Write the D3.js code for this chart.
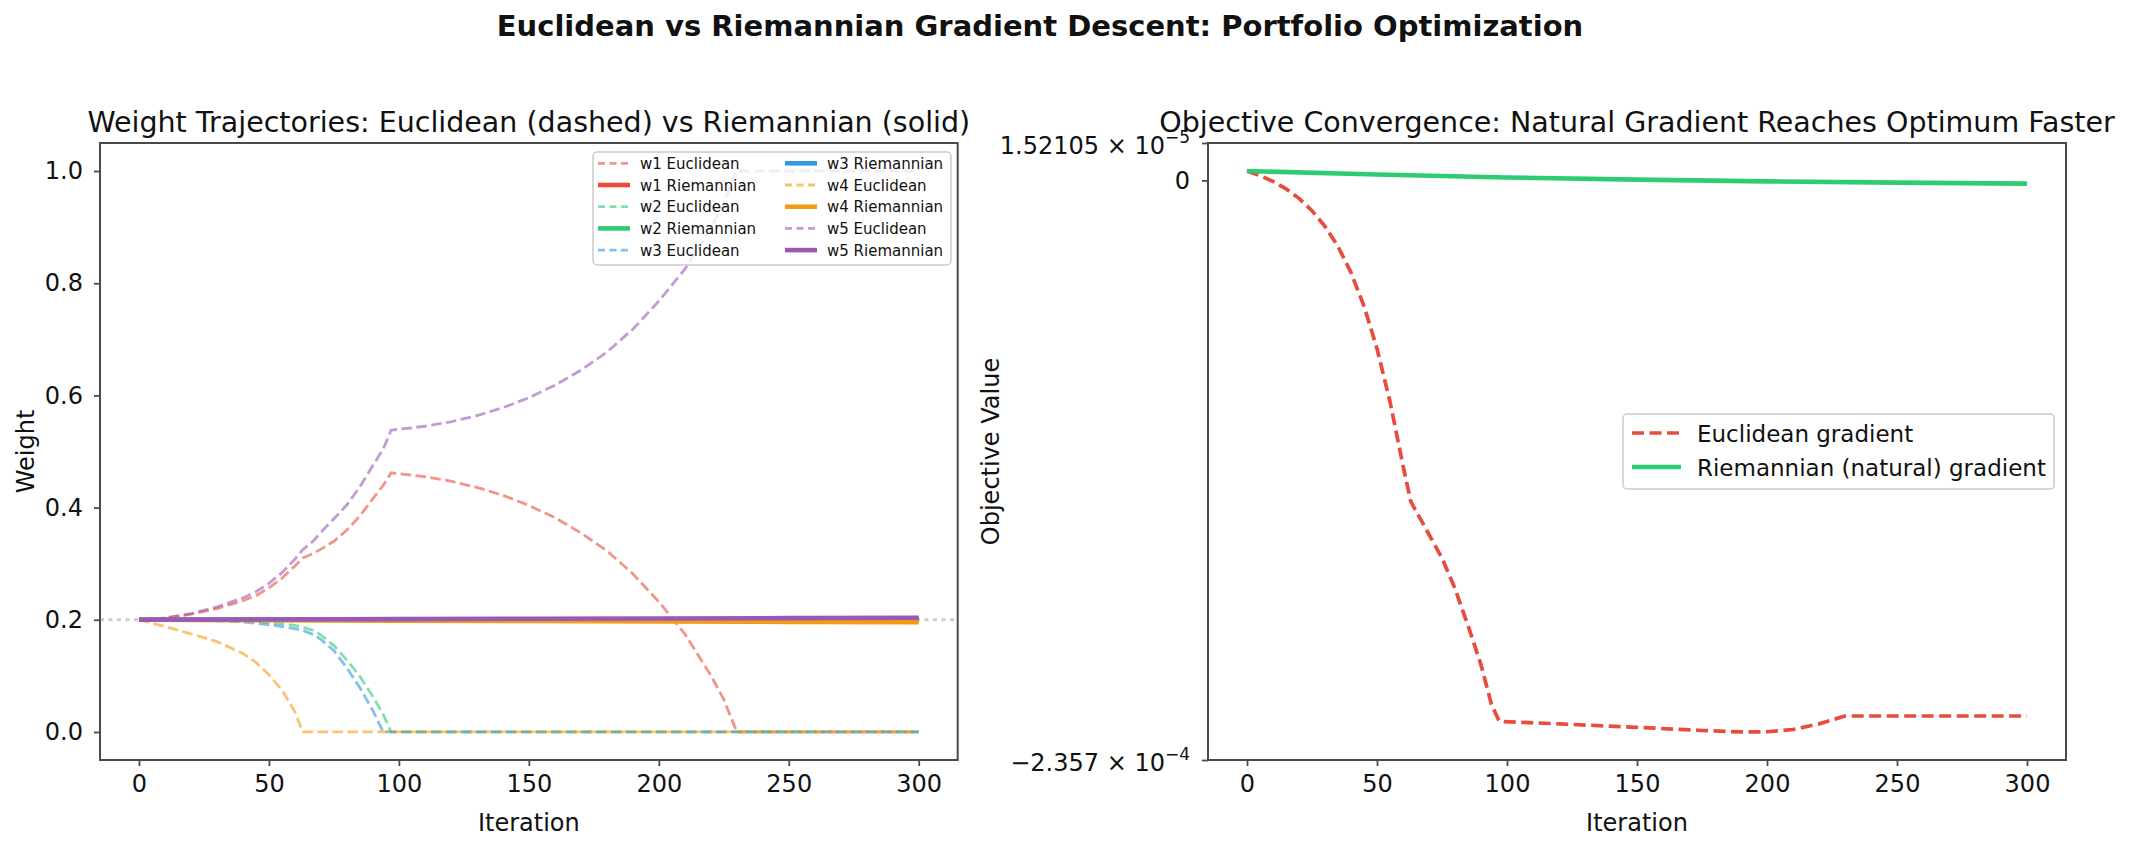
<!DOCTYPE html>
<html>
<head>
<meta charset="utf-8">
<script src="https://cdn.jsdelivr.net/npm/d3@7"></script>
<style>
  body { margin: 0; background: #fff; }
  svg text { font-family: "DejaVu Sans", sans-serif; fill: #111; }
</style>
</head>
<body>
<div id="wrapper"></div>
<script>
// iterations sampled for the weight trajectories (Euclidean)
const iters = [0, 10, 20, 30, 40, 45, 50, 55, 60, 63, 67, 70, 75, 80, 85, 90, 94, 97,
  110, 120, 130, 140, 150, 160, 170, 180, 190, 200, 210, 220, 225, 230, 250, 275, 300];

const w1Euclid = [0.2, 0.203, 0.21, 0.22, 0.234, 0.243, 0.257, 0.274, 0.296, 0.31, 0.318, 0.326, 0.34, 0.36, 0.385, 0.416, 0.44, 0.462,
  0.455, 0.447, 0.436, 0.422, 0.404, 0.382, 0.355, 0.323, 0.282, 0.232, 0.175, 0.101, 0.058, 0, 0, 0, 0];
const w2Euclid = [0.2, 0.2, 0.2, 0.199, 0.198, 0.197, 0.195, 0.193, 0.19, 0.187, 0.181, 0.173, 0.154, 0.128, 0.099, 0.063, 0.031, 0,
  0, 0, 0, 0, 0, 0, 0, 0, 0, 0, 0, 0, 0, 0, 0, 0, 0];
const w3Euclid = [0.2, 0.2, 0.199, 0.198, 0.196, 0.194, 0.191, 0.188, 0.184, 0.181, 0.174, 0.165, 0.145, 0.114, 0.079, 0.038, 0, 0,
  0, 0, 0, 0, 0, 0, 0, 0, 0, 0, 0, 0, 0, 0, 0, 0, 0];
const w4Euclid = [0.2, 0.188, 0.175, 0.161, 0.14, 0.124, 0.102, 0.075, 0.036, 0, 0, 0, 0, 0, 0, 0, 0, 0,
  0, 0, 0, 0, 0, 0, 0, 0, 0, 0, 0, 0, 0, 0, 0, 0, 0];
const w5Euclid = [0.2, 0.203, 0.211, 0.223, 0.239, 0.25, 0.265, 0.284, 0.308, 0.325, 0.34, 0.356, 0.38, 0.405, 0.437, 0.475, 0.505, 0.538,
  0.545, 0.553, 0.564, 0.578, 0.596, 0.618, 0.645, 0.677, 0.718, 0.768, 0.825, 0.899, 0.942, 1, 1, 1, 1];

// Riemannian weights barely move
const rIters = [0, 50, 100, 150, 200, 250, 300];
const w1Riem = [0.2, 0.2001, 0.2003, 0.2004, 0.2006, 0.2007, 0.2008];
const w2Riem = [0.2, 0.2001, 0.2002, 0.2003, 0.2003, 0.2004, 0.2005];
const w3Riem = [0.2, 0.2, 0.1999, 0.1999, 0.1999, 0.1998, 0.1998];
const w4Riem = [0.2, 0.1992, 0.1985, 0.1977, 0.197, 0.1962, 0.1955];
const w5Riem = [0.2, 0.2006, 0.2012, 0.2018, 0.2023, 0.2029, 0.2035];

// objective values
const objIters = [0, 5, 10, 15, 20, 25, 30, 35, 40, 45, 50, 55, 60, 63, 70, 75, 80, 85, 90, 94, 97,
  120, 150, 175, 190, 200, 210, 220, 230, 250, 275, 300];
const objEuclid = [3.8e-6, 1.97e-6, -0.39e-6, -3.42e-6, -7.3e-6, -1.23e-5, -1.87e-5, -2.69e-5, -3.75e-5, -5.11e-5, -6.84e-5,
  -9.0e-5, -1.16e-4, -1.306e-4, -1.44e-4, -1.536e-4, -1.66e-4, -1.81e-4, -1.97e-4, -2.13e-4, -2.2e-4,
  -2.21e-4, -2.224e-4, -2.237e-4, -2.243e-4, -2.242e-4, -2.233e-4, -2.21e-4, -2.178e-4, -2.178e-4, -2.178e-4, -2.178e-4];
const objRiem = [3.8e-6, 2.4e-6, 1.2e-6, 0.3e-6, -0.4e-6, -0.9e-6, -1.3e-6];

const assetNames = ["w1", "w2", "w3", "w4", "w5"];
const assetColors = ["#e74c3c", "#2ecc71", "#3498db", "#f39c12", "#9b59b6"];
const euclidSeries = [w1Euclid, w2Euclid, w3Euclid, w4Euclid, w5Euclid];
const riemSeries = [w1Riem, w2Riem, w3Riem, w4Riem, w5Riem];

const xTicks = [0, 50, 100, 150, 200, 250, 300];
const yLeftTicks = [0, 0.2, 0.4, 0.6, 0.8, 1.0];
const yRightTicks = [-2.357e-4, 0, 1.52105e-5];
const yRightMant = ["\u22122.357 \u00d7 10", "0", "1.52105 \u00d7 10"];
const yRightExp = ["\u22124", "", "\u22125"];

const W = 2135, H = 846;
const leftBox = { x0: 100, x1: 957.7, y0: 143, y1: 760 };
const rightBox = { x0: 1208, x1: 2066, y0: 143, y1: 760 };
const axisColor = "#4a4a4a";
const dashEuc = "10.5,4.5";
const tickFont = "24px";

const svg = d3.select("#wrapper").append("svg")
  .attr("width", W)
  .attr("height", H);

svg.append("text")
  .attr("x", 1040).attr("y", 36)
  .attr("text-anchor", "middle")
  .attr("font-size", "29px")
  .attr("font-weight", "bold")
  .text("Euclidean vs Riemannian Gradient Descent: Portfolio Optimization");

function styleAxis(g) {
  g.select(".domain").remove();
  g.selectAll(".tick line").attr("stroke", axisColor).attr("stroke-width", 1.8);
  g.selectAll(".tick text").attr("font-size", tickFont).attr("fill", "#111")
    .attr("font-family", "DejaVu Sans, sans-serif");
}

function frame(box) {
  svg.append("rect")
    .attr("x", box.x0).attr("y", box.y0)
    .attr("width", box.x1 - box.x0).attr("height", box.y1 - box.y0)
    .attr("fill", "none").attr("stroke", axisColor).attr("stroke-width", 2);
}

// ---------- left: weight trajectories ----------
const xL = d3.scaleLinear().domain([-15, 315]).range([leftBox.x0, leftBox.x1]);
const yL = d3.scaleLinear().domain([-0.05, 1.05]).range([leftBox.y1, leftBox.y0]);

svg.append("clipPath").attr("id", "clipL").append("rect")
  .attr("x", leftBox.x0).attr("y", leftBox.y0)
  .attr("width", leftBox.x1 - leftBox.x0).attr("height", leftBox.y1 - leftBox.y0);

const plotL = svg.append("g").attr("clip-path", "url(#clipL)");

plotL.append("line")
  .attr("x1", leftBox.x0).attr("x2", leftBox.x1)
  .attr("y1", yL(0.2)).attr("y2", yL(0.2))
  .attr("stroke", "#999").attr("stroke-opacity", 0.5)
  .attr("stroke-width", 2.8).attr("stroke-dasharray", "4,4.5");

const lineE = d3.line().x((d, i) => xL(iters[i])).y(d => yL(d));
const lineR = d3.line().x((d, i) => xL(rIters[i])).y(d => yL(d));

euclidSeries.forEach((vals, k) => {
  plotL.append("path")
    .attr("d", lineE(vals))
    .attr("fill", "none")
    .attr("stroke", assetColors[k])
    .attr("stroke-opacity", 0.6)
    .attr("stroke-width", 2.8)
    .attr("stroke-dasharray", dashEuc);
  plotL.append("path")
    .attr("d", lineR(riemSeries[k]))
    .attr("fill", "none")
    .attr("stroke", assetColors[k])
    .attr("stroke-width", 4.6);
});

frame(leftBox);

svg.append("g")
  .attr("transform", `translate(0,${leftBox.y1})`)
  .call(d3.axisBottom(xL).tickValues(xTicks).tickSize(6).tickPadding(9).tickFormat(d3.format("d")))
  .call(styleAxis);

svg.append("g")
  .attr("transform", `translate(${leftBox.x0},0)`)
  .call(d3.axisLeft(yL).tickValues(yLeftTicks).tickSize(6).tickPadding(11).tickFormat(d3.format(".1f")))
  .call(styleAxis);

svg.append("text")
  .attr("x", (leftBox.x0 + leftBox.x1) / 2).attr("y", 132)
  .attr("text-anchor", "middle").attr("font-size", "28.5px")
  .text("Weight Trajectories: Euclidean (dashed) vs Riemannian (solid)");

svg.append("text")
  .attr("x", (leftBox.x0 + leftBox.x1) / 2).attr("y", 831)
  .attr("text-anchor", "middle").attr("font-size", tickFont)
  .text("Iteration");

svg.append("text")
  .attr("transform", `translate(34,${(leftBox.y0 + leftBox.y1) / 2}) rotate(-90)`)
  .attr("text-anchor", "middle").attr("font-size", tickFont)
  .text("Weight");

// legend, two columns, column-major order
const legL = svg.append("g");
legL.append("rect")
  .attr("x", 593).attr("y", 152).attr("width", 358).attr("height", 113)
  .attr("rx", 4)
  .attr("fill", "#fff").attr("fill-opacity", 0.8)
  .attr("stroke", "#cccccc").attr("stroke-width", 1.5);

const legItems = [];
assetNames.forEach((n, k) => {
  legItems.push({ label: n + " Euclidean", color: assetColors[k], dashed: true });
  legItems.push({ label: n + " Riemannian", color: assetColors[k], dashed: false });
});
legItems.forEach((it, i) => {
  const col = Math.floor(i / 5), row = i % 5;
  const hx = col === 0 ? 598 : 785;
  const cy = 163.3 + row * 21.7;
  legL.append("line")
    .attr("x1", hx).attr("x2", hx + 32)
    .attr("y1", cy).attr("y2", cy)
    .attr("stroke", it.color)
    .attr("stroke-opacity", it.dashed ? 0.6 : 1)
    .attr("stroke-width", it.dashed ? 2.8 : 4.6)
    .attr("stroke-dasharray", it.dashed ? "7,4.5" : null);
  legL.append("text")
    .attr("x", hx + 42).attr("y", cy + 5.5)
    .attr("font-size", "15px")
    .text(it.label);
});

// ---------- right: objective convergence ----------
const xR = d3.scaleLinear().domain([-15, 315]).range([rightBox.x0, rightBox.x1]);
const yR = d3.scaleLinear().domain([-2.357e-4, 1.52105e-5]).range([rightBox.y1, rightBox.y0]);

svg.append("clipPath").attr("id", "clipR").append("rect")
  .attr("x", rightBox.x0).attr("y", rightBox.y0)
  .attr("width", rightBox.x1 - rightBox.x0).attr("height", rightBox.y1 - rightBox.y0);
const plotR = svg.append("g").attr("clip-path", "url(#clipR)");

plotR.append("path")
  .attr("d", d3.line().x((d, i) => xR(objIters[i])).y(d => yR(d))(objEuclid))
  .attr("fill", "none")
  .attr("stroke", "#e74c3c")
  .attr("stroke-width", 3.7)
  .attr("stroke-dasharray", "12,5.5");

plotR.append("path")
  .attr("d", d3.line().x((d, i) => xR(rIters[i])).y(d => yR(d))(objRiem))
  .attr("fill", "none")
  .attr("stroke", "#2ecc71")
  .attr("stroke-width", 4.6);

frame(rightBox);

svg.append("g")
  .attr("transform", `translate(0,${rightBox.y1})`)
  .call(d3.axisBottom(xR).tickValues(xTicks).tickSize(6).tickPadding(9).tickFormat(d3.format("d")))
  .call(styleAxis);

const yAxR = svg.append("g")
  .attr("transform", `translate(${rightBox.x0},0)`)
  .call(d3.axisLeft(yR).tickValues(yRightTicks).tickSize(6).tickPadding(12).tickFormat(() => ""))
  .call(styleAxis);

yAxR.selectAll(".tick text").each(function (d, i) {
  const t = d3.select(this).attr("dy", null)
    .attr("y", i === 1 ? 8.5 : 10);
  t.append("tspan").text(yRightMant[i]);
  if (yRightExp[i]) {
    t.append("tspan").attr("dy", -10.5).attr("font-size", "17px").text(yRightExp[i]);
  }
});

svg.append("text")
  .attr("x", (rightBox.x0 + rightBox.x1) / 2).attr("y", 132)
  .attr("text-anchor", "middle").attr("font-size", "28.5px")
  .text("Objective Convergence: Natural Gradient Reaches Optimum Faster");

svg.append("text")
  .attr("x", (rightBox.x0 + rightBox.x1) / 2).attr("y", 831)
  .attr("text-anchor", "middle").attr("font-size", tickFont)
  .text("Iteration");

svg.append("text")
  .attr("transform", `translate(999,${(rightBox.y0 + rightBox.y1) / 2}) rotate(-90)`)
  .attr("text-anchor", "middle").attr("font-size", tickFont)
  .text("Objective Value");

const legR = svg.append("g");
legR.append("rect")
  .attr("x", 1623).attr("y", 414).attr("width", 431).attr("height", 75)
  .attr("rx", 4)
  .attr("fill", "#fff").attr("fill-opacity", 0.8)
  .attr("stroke", "#cccccc").attr("stroke-width", 1.5);

const rightLegend = [
  { label: "Euclidean gradient", color: "#e74c3c", dashed: true },
  { label: "Riemannian (natural) gradient", color: "#2ecc71", dashed: false }
];
rightLegend.forEach((it, i) => {
  const cy = 433 + i * 34;
  legR.append("line")
    .attr("x1", 1632).attr("x2", 1681)
    .attr("y1", cy).attr("y2", cy)
    .attr("stroke", it.color)
    .attr("stroke-width", it.dashed ? 3.7 : 4.6)
    .attr("stroke-dasharray", it.dashed ? "12,5.5" : null);
  legR.append("text")
    .attr("x", 1697).attr("y", cy + 8.5)
    .attr("font-size", "23px")
    .text(it.label);
});
</script>
</body>
</html>
